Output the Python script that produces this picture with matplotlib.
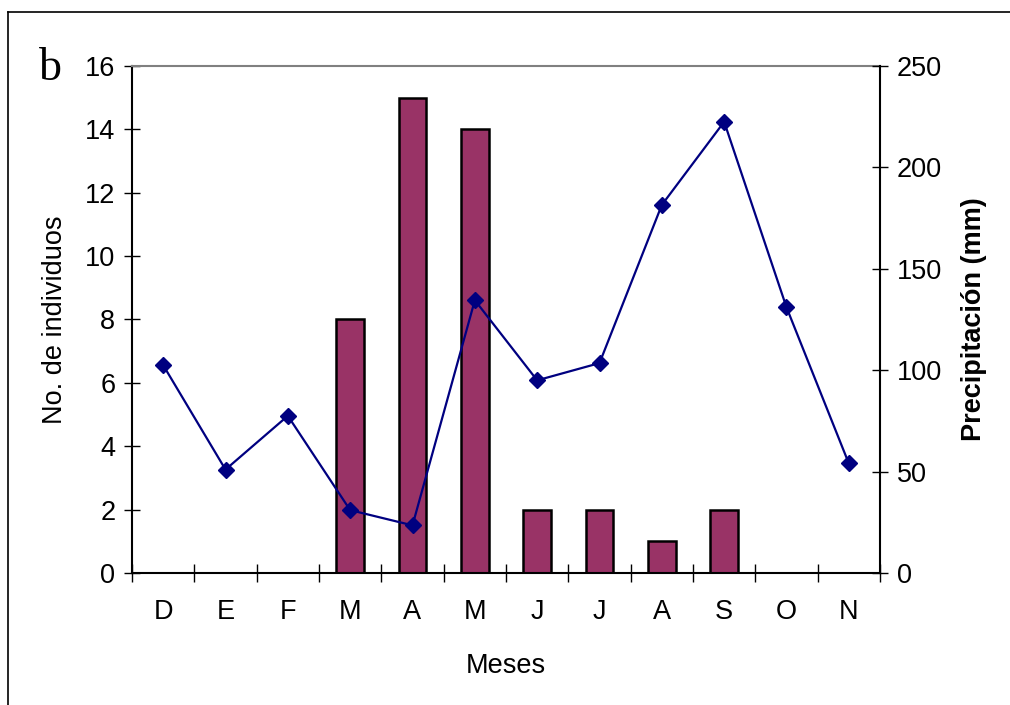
import matplotlib
matplotlib.use("Agg")
import matplotlib.pyplot as plt
import numpy as np
from matplotlib.lines import Line2D

months = ["D", "E", "F", "M", "A", "M", "J", "J", "A", "S", "O", "N"]
individuos = [0, 0, 0, 8, 15, 14, 2, 2, 1, 2, 0, 0]
precip = [102.5, 51, 77.5, 31, 23.5, 134.5, 95, 103.5, 181.5, 222.5, 131, 54]
left_ticks = [0, 2, 4, 6, 8, 10, 12, 14, 16]
right_ticks = [0, 50, 100, 150, 200, 250]

plt.rcParams['font.family'] = ['Liberation Sans', 'DejaVu Sans']
FS = 19.5

fig = plt.figure(figsize=(10.10, 7.05), dpi=100)
ax = fig.add_axes([132/1010, 1-573/705, 748/1010, 507/705])
x = np.arange(len(months))

ax.bar(x, individuos, width=0.44, color="#993366", edgecolor="black", linewidth=1.8, zorder=2)
ax.set_xlim(-0.5, 11.5)
ax.set_ylim(0, 16)
ax.set_yticks(left_ticks)
ax.set_xticks(np.arange(-0.5, 12, 1))
ax.set_xticklabels([])
ax.set_xticks(x, minor=True)
ax.set_xticklabels(months, minor=True)
ax.tick_params(axis='x', which='major', direction='inout', length=13, width=1, color='black')
ax.tick_params(axis='x', which='minor', length=0, pad=19, labelsize=FS)
ax.tick_params(axis='y', direction='inout', length=12, width=1, labelsize=FS, pad=6)
ax.set_ylabel("No. de individuos", fontsize=FS, labelpad=12)
ax.set_xlabel("Meses", fontsize=FS, labelpad=20)
ax.spines['top'].set_color('#808080')
ax.spines['top'].set_linewidth(1.5)
ax.spines['right'].set_visible(False)
for s in ['left', 'bottom']:
    ax.spines[s].set_linewidth(1.5)

ax2 = ax.twinx()
ax2.plot(x, precip, color="#000080", linewidth=1.6, marker='D', markersize=8.5,
         markerfacecolor="#000080", markeredgecolor="#000080", zorder=3)
ax2.set_ylim(0, 250)
ax2.set_yticks(right_ticks)
ax2.tick_params(axis='y', direction='inout', length=12, width=1, labelsize=FS, pad=6)
ax2.set_ylabel("Precipitación (mm)", fontsize=FS, fontweight='bold', labelpad=14)
for s in ['top', 'left', 'bottom']:
    ax2.spines[s].set_visible(False)
ax2.spines['right'].set_linewidth(1.5)

fig.text(39/1010, 1-69/705, "b", fontsize=33, family=['Liberation Serif', 'DejaVu Serif'],
         va='center', ha='left')

# outer frame lines (left and top)
fig.add_artist(Line2D([8/1010, 8/1010], [0, 1-12/705], color='black', linewidth=1.2,
                      transform=fig.transFigure))
fig.add_artist(Line2D([8/1010, 1], [1-12/705, 1-12/705], color='black', linewidth=1.2,
                      transform=fig.transFigure))

fig.savefig("out.png", dpi=100)
